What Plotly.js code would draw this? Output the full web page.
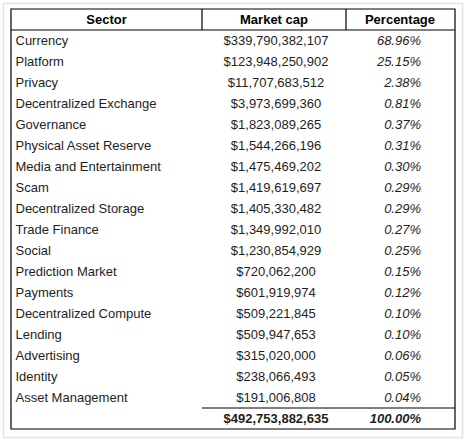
<!DOCTYPE html>
<html>
<head>
<meta charset="utf-8">
<script src="https://cdn.plot.ly/plotly-3.0.1.min.js"></script>
<style>html,body{margin:0;padding:0;background:#fff;}#chart{width:467px;height:441px;}</style>
</head>
<body>
<div id="chart"></div>
<script>
// ---- data ----
var headers = ["Sector", "Market cap", "Percentage"];
var sectors = ["Currency", "Platform", "Privacy", "Decentralized Exchange", "Governance",
  "Physical Asset Reserve", "Media and Entertainment", "Scam", "Decentralized Storage",
  "Trade Finance", "Social", "Prediction Market", "Payments", "Decentralized Compute",
  "Lending", "Advertising", "Identity", "Asset Management"];
var marketCaps = [339790382107, 123948250902, 11707683512, 3973699360, 1823089265,
  1544266196, 1475469202, 1419619697, 1405330482, 1349992010, 1230854929, 720062200,
  601919974, 509221845, 509947653, 315020000, 238066493, 191006808];
var percentages = [68.96, 25.15, 2.38, 0.81, 0.37, 0.31, 0.30, 0.29, 0.29, 0.27, 0.25,
  0.15, 0.12, 0.10, 0.10, 0.06, 0.05, 0.04];
var totalMarketCap = 492753882635;
var totalPercentage = 100.00;

// ---- formatting / layout ----
var W = 467, H = 441;
var fmtMoney = function (v) { return "$" + v.toLocaleString("en-US"); };
var fmtPct = function (v) { return "<i>" + v.toFixed(2) + "%</i>"; };

var nRows = sectors.length;            // body rows
var rowIdx = sectors.map(function (_, i) { return i; });
var totalIdx = nRows;                  // total row index
var headerIdx = -1;
var rowH = 21, firstRowTop = 30;
var tOff = 1.5 / rowH;                 // small downward text nudge within a row
var shift = function (arr) { return arr.map(function (v) { return v + tOff; }); };

// column geometry (x axis in pixel-like units)
var colEdges = [11, 202, 346, 455];
var FONT = "Liberation Sans, Arial, sans-serif";
var bodyFont = { family: FONT, size: 13, color: "#1e1e1e" };
var allRows = rowIdx.concat([totalIdx]);

var traces = [
  // header
  { type: "scatter", mode: "text", cliponaxis: false, hoverinfo: "skip",
    x: [(colEdges[0] + colEdges[1]) / 2, (colEdges[1] + colEdges[2]) / 2, (colEdges[2] + colEdges[3]) / 2 - 0.5],
    y: shift([headerIdx, headerIdx, headerIdx]),
    text: headers.map(function (h) { return "<b>" + h + "</b>"; }),
    textposition: "middle center",
    textfont: { family: FONT, size: 13, color: "#000" } },
  // sector column
  { type: "scatter", mode: "text", cliponaxis: false, hoverinfo: "skip",
    x: rowIdx.map(function () { return colEdges[0] + 4.5; }), y: shift(rowIdx),
    text: sectors, textposition: "middle right", textfont: bodyFont },
  // market cap column
  { type: "scatter", mode: "text", cliponaxis: false, hoverinfo: "skip",
    x: allRows.map(function () { return (colEdges[1] + colEdges[2]) / 2 + 2; }),
    y: shift(allRows),
    text: marketCaps.map(fmtMoney).concat(["<b>" + fmtMoney(totalMarketCap) + "</b>"]),
    textposition: "middle center", textfont: bodyFont },
  // percentage column
  { type: "scatter", mode: "text", cliponaxis: false, hoverinfo: "skip",
    x: allRows.map(function () { return 421; }),
    y: shift(allRows),
    text: percentages.map(fmtPct).concat(["<b><i>" + totalPercentage.toFixed(2) + "%</i></b>"]),
    textposition: "middle left", textfont: bodyFont }
];

// y axis: row i centred at pixel 30 + 21*(i+0.5)
var yTopVal = -(firstRowTop) / rowH - 0.5;          // pixel 0
var yBotVal = (H - firstRowTop) / rowH - 0.5;       // pixel H

var black = { color: "#000", width: 1.2 };
var layout = {
  width: W, height: H,
  margin: { l: 0, r: 0, t: 0, b: 0 },
  paper_bgcolor: "#fff", plot_bgcolor: "#fff",
  showlegend: false, hovermode: false,
  xaxis: { range: [0, W], visible: false, fixedrange: true },
  yaxis: { range: [yBotVal, yTopVal], visible: false, fixedrange: true },
  shapes: [
    // light screenshot frame
    { type: "rect", xref: "paper", yref: "paper", layer: "below",
      x0: 3.5 / W, x1: 462.5 / W, y0: 3.5 / H, y1: 1 - 3.5 / H,
      line: { color: "#e4e4e4", width: 1.5 } },
    // outer table border
    { type: "rect", xref: "x", yref: "y",
      x0: colEdges[0], x1: colEdges[3], y0: headerIdx - 0.5, y1: totalIdx + 0.5, line: black },
    // header bottom
    { type: "line", xref: "x", yref: "y",
      x0: colEdges[0], x1: colEdges[3], y0: headerIdx + 0.5, y1: headerIdx + 0.5, line: black },
    // header column separators
    { type: "line", xref: "x", yref: "y",
      x0: colEdges[1], x1: colEdges[1], y0: headerIdx - 0.5, y1: headerIdx + 0.5, line: black },
    { type: "line", xref: "x", yref: "y",
      x0: colEdges[2], x1: colEdges[2], y0: headerIdx - 0.5, y1: headerIdx + 0.5, line: black },
    // total row top line
    { type: "line", xref: "x", yref: "y",
      x0: colEdges[1], x1: colEdges[3], y0: totalIdx - 0.5, y1: totalIdx - 0.5, line: black }
  ]
};

Plotly.newPlot("chart", traces, layout, { displayModeBar: false, staticPlot: true });
</script>
</body>
</html>
